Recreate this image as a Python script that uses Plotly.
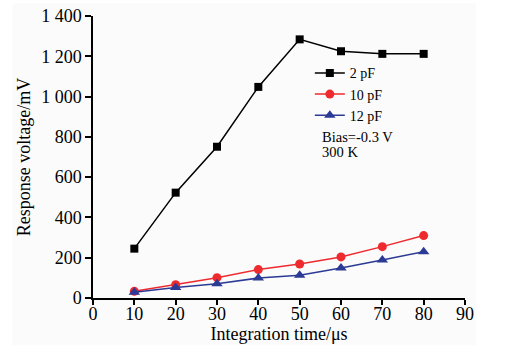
import plotly.graph_objects as go

time_us = [10, 20, 30, 40, 50, 60, 70, 80]
v_2pF = [245, 523, 751, 1048, 1284, 1225, 1212, 1212]
v_10pF = [33, 66, 101, 141, 169, 204, 255, 310]
v_12pF = [28, 52, 71, 99, 113, 149, 189, 230]

x_ticks = [0, 10, 20, 30, 40, 50, 60, 70, 80, 90]
y_ticks = [0, 200, 400, 600, 800, 1000, 1200, 1400]
y_ticktext = ["0", "200", "400", "600", "800", "1 000", "1 200", "1 400"]

FONT = "Liberation Serif, Times New Roman, serif"

fig = go.Figure()
fig.add_trace(go.Scatter(x=time_us, y=v_2pF, name="2 pF", mode="lines+markers",
                         line=dict(color="black", width=1.5),
                         marker=dict(symbol="square", size=8, color="black")))
fig.add_trace(go.Scatter(x=time_us, y=v_10pF, name="10 pF", mode="lines+markers",
                         line=dict(color="#ee2a2e", width=1.5),
                         marker=dict(symbol="circle", size=9, color="#ee2a2e")))
fig.add_trace(go.Scatter(x=time_us, y=v_12pF, name="12 pF", mode="lines+markers",
                         line=dict(color="#2b3a94", width=1.5),
                         marker=dict(symbol="triangle-up", size=10, color="#2b3a94")))

L, R, T, B = 92.7, 465.5, 15.7, 297.7
W, H = 516, 345
pw, ph = R - L, B - T

def px_x(p):
    return (p - L) / pw

def px_y(p):
    return (B - p) / ph

fig.update_layout(
    width=W, height=H,
    margin=dict(l=L, r=W - R, t=T, b=H - B, pad=0, autoexpand=False),
    paper_bgcolor="white",
    plot_bgcolor="rgba(0,0,0,0)",
    font=dict(family=FONT, color="black", size=18),
    showlegend=True,
    legend=dict(x=px_x(310), y=px_y(57), xanchor="left", yanchor="top",
                bgcolor="rgba(0,0,0,0)", font=dict(size=14, family=FONT),
                itemwidth=30, tracegroupgap=0),
    xaxis=dict(range=[0, 90], tickvals=x_ticks, showgrid=False, zeroline=False,
               showline=True, linecolor="black", linewidth=1.5, automargin=False,
               ticks="outside", ticklen=5, tickwidth=1.5, tickcolor="black",
               ticklabelstandoff=-6,
               tickfont=dict(size=18, family=FONT),
               title=dict(text="Integration time/μs", font=dict(size=18, family=FONT), standoff=1)),
    yaxis=dict(range=[0, 1400], tickvals=y_ticks, ticktext=y_ticktext, showgrid=False,
               zeroline=False, showline=True, linecolor="black", linewidth=1.5, automargin=False,
               ticks="outside", ticklen=6, tickwidth=1.5, tickcolor="black",
               tickfont=dict(size=18, family=FONT),
               title=dict(text="Response voltage/mV", font=dict(size=18, family=FONT), standoff=6)),
    shapes=[
        dict(type="rect", xref="paper", yref="paper", layer="below",
             x0=px_x(12), x1=px_x(477), y0=px_y(345), y1=px_y(3),
             fillcolor="#fbfbfb", line=dict(width=0)),
        dict(type="rect", xref="paper", yref="paper", layer="above",
             x0=px_x(477), x1=px_x(516), y0=px_y(345), y1=px_y(0),
             fillcolor="white", line=dict(width=0)),
    ],
    annotations=[
        dict(text="Bias=-0.3 V", xref="paper", yref="paper", x=px_x(320), y=px_y(136.7),
             xanchor="left", yanchor="middle", showarrow=False, font=dict(size=14.5, family=FONT)),
        dict(text="300 K", xref="paper", yref="paper", x=px_x(320), y=px_y(152),
             xanchor="left", yanchor="middle", showarrow=False, font=dict(size=14.5, family=FONT)),
    ],
)

fig.write_html("out.html")
